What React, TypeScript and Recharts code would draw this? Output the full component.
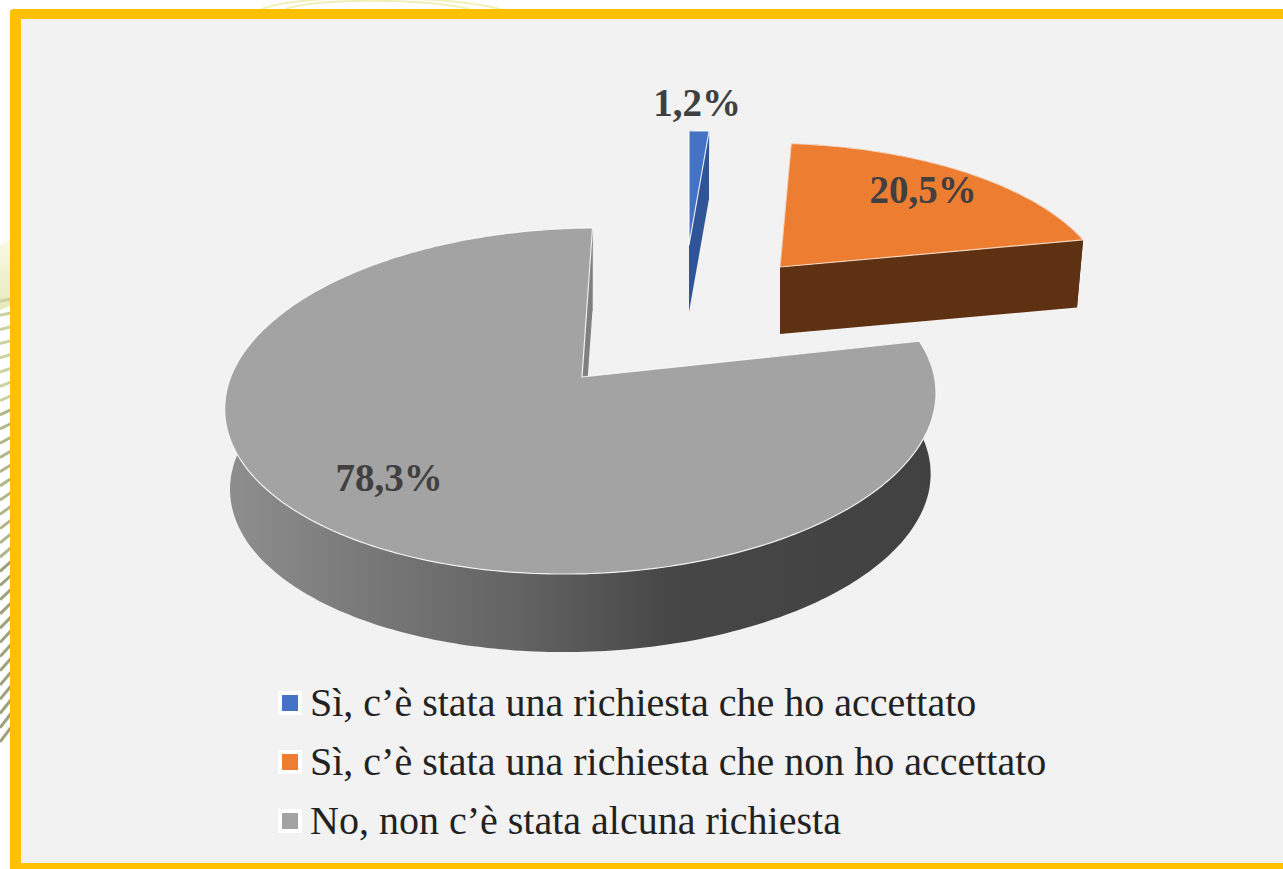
import React from 'react';
import { PieChart, Pie, Legend } from 'recharts';

const CATEGORIES = [
  'Sì, c’è stata una richiesta che ho accettato',
  'Sì, c’è stata una richiesta che non ho accettato',
  'No, non c’è stata alcuna richiesta',
];
const VALUES = [1.2, 20.5, 78.3];
const VALUE_LABELS = ['1,2%', '20,5%', '78,3%'];
const COLORS = ['#4472C4', '#ED7D31', '#A3A3A3'];
const WALLS = ['#2F5597', '#5F3113', 'url(#grayWall)'];

// projection of each exploded slice (perspective look of the 3D pie)
const K = 0.1387;
const PROJ = [
  { ax: 689, ay: 245, a: 303, b: 130, sx: 0, sy: 0, depth: 67, base: 0.99, lx: 8, ly: -143 },
  { ax: 780, ay: 267, a: 321, b: 141, sx: -11.5, sy: -1.2, depth: 67, base: 0.98, lx: 143, ly: -78 },
  { ax: 582, ay: 377, a: 352, b: 169.7, sx: 12, sy: 2, depth: 81, base: 0.985, lx: -193, ly: 100 },
];

const tableData = CATEGORIES.map((name, i) => ({ name, value: VALUES[i], fill: COLORS[i] }));

type P = (typeof PROJ)[number];

function rim(p: P, theta: number) {
  const u = Math.sin((theta * Math.PI) / 180);
  const v = Math.cos((theta * Math.PI) / 180);
  const w = 1 + K * v;
  return { x: (p.a * u + p.sx * v) / w, y: -(p.b * v + p.sy * u) / w };
}

function SliceShape(props: any) {
  const { startAngle, endAngle, index, fill } = props;
  const p = PROJ[index];
  const from = 90 - startAngle;
  const to = 90 - endAngle;
  const steps = Math.ceil(to - from) + 1;
  const arc: { x: number; y: number }[] = [];
  for (let i = 0; i <= steps; i++) arc.push(rim(p, from + ((to - from) * i) / steps));

  const top = (q: { x: number; y: number }) => `${(p.ax + q.x).toFixed(1)},${(p.ay + q.y).toFixed(1)}`;
  const low = (q: { x: number; y: number }) =>
    `${(p.ax + q.x * p.base).toFixed(1)},${(p.ay + p.depth + q.y * p.base).toFixed(1)}`;

  const o = { x: 0, y: 0 };
  const band = [...arc.map(top), ...[...arc].reverse().map(low)].join(' ');
  const cutA = [top(o), top(arc[0]), low(arc[0]), low(o)].join(' ');
  const last = arc[arc.length - 1];
  const cutB = [top(o), top(last), low(last), low(o)].join(' ');
  const face = [top(o), ...arc.map(top)].join(' ');

  return (
    <g>
      <polygon points={band} fill={WALLS[index]} />
      <polygon points={cutA} fill={index === 2 ? '#808080' : WALLS[index]} />
      <polygon points={cutB} fill={index === 2 ? '#808080' : WALLS[index]} />
      <polygon points={face} fill={fill} stroke={index === 1 ? '#FBE3D3' : '#FFFFFF'} strokeWidth={1.2} strokeOpacity={0.85} strokeLinejoin="round" />
    </g>
  );
}

function renderLabel(props: any) {
  const p = PROJ[props.index];
  return (
    <text
      x={p.ax + p.lx}
      y={p.ay + p.ly}
      textAnchor="middle"
      dominantBaseline="central"
      fontFamily="'Liberation Serif', serif"
      fontWeight={700}
      fontSize={39}
      fill="#404040"
    >
      {VALUE_LABELS[props.index]}
    </text>
  );
}

function renderLegend(props: any) {
  const items = props.payload || [];
  return (
    <div>
      {items.map((item: any, i: number) => (
        <div key={i} style={{ display: 'flex', alignItems: 'center', height: 59 }}>
          <span style={{ width: 16, height: 16, border: '4px solid #fff', background: item.color, marginRight: 8, flex: 'none' }} />
          <span style={{ fontFamily: "'Liberation Serif', serif", fontSize: 40, color: '#222', whiteSpace: 'nowrap' }}>{item.value}</span>
        </div>
      ))}
    </div>
  );
}

function Backdrop() {
  const strips = [];
  for (let y = 300; y <= 737; y += 14) {
    const t = (y - 300) / 437;
    const rise = 1 + t * 7;
    strips.push(
      <line key={y} x1={0} y1={y + rise} x2={12} y2={y - rise} stroke={t < 0.25 ? '#CFD0A0' : t < 0.6 ? '#B4B48A' : '#A0A07C'} strokeWidth={3} />,
    );
  }
  return (
    <svg width={1283} height={869} style={{ position: 'absolute', left: 0, top: 0 }}>
      <defs>
        <linearGradient id="paleFade" x1="0" y1="0" x2="0" y2="1">
          <stop offset="0" stopColor="#FAFAE6" />
          <stop offset="1" stopColor="#E8E8BC" />
        </linearGradient>
      </defs>
      <polygon points="0,245 12,238 12,305 0,310" fill="url(#paleFade)" />
      {strips}
      <path d="M262,9 C300,-6 440,-6 500,9" stroke="#F0F0B8" strokeWidth={2} fill="none" />
      <path d="M285,9 C320,-2 420,-2 470,9" stroke="#F0F0B8" strokeWidth={2} fill="none" />
    </svg>
  );
}

export default function App() {
  return (
    <div style={{ position: 'absolute', left: 0, top: 0, width: 1283, height: 869, overflow: 'hidden', background: '#fff' }}>
      <Backdrop />
      <div
        style={{
          position: 'absolute',
          left: 10,
          top: 9,
          width: 1293,
          height: 860,
          boxSizing: 'border-box',
          borderLeft: '11px solid #FFC000',
          borderTop: '10px solid #FFC000',
          borderBottom: '6px solid #FFC000',
          borderRadius: '4px 0 0 0',
          background: '#F2F2F2',
        }}
      />
      <div style={{ position: 'absolute', left: 0, top: 0 }}>
        <PieChart width={1283} height={869}>
          <defs>
            <linearGradient id="grayWall" gradientUnits="userSpaceOnUse" x1="230" y1="0" x2="935" y2="0">
              <stop offset="0" stopColor="#8E8E8E" />
              <stop offset="0.2" stopColor="#787878" />
              <stop offset="0.42" stopColor="#626262" />
              <stop offset="0.62" stopColor="#474747" />
              <stop offset="1" stopColor="#414141" />
            </linearGradient>
          </defs>
          <Pie
            data={tableData}
            dataKey="value"
            nameKey="name"
            startAngle={90}
            endAngle={-270}
            cx={582}
            cy={377}
            outerRadius={170}
            stroke="none"
            shape={SliceShape}
            label={renderLabel}
            labelLine={false}
            isAnimationActive={false}
          />
          <Legend
            content={renderLegend}
            itemSorter={null}
            wrapperStyle={{ position: 'absolute', left: 278, top: 673, width: 900, bottom: 'auto' }}
          />
        </PieChart>
      </div>
    </div>
  );
}
